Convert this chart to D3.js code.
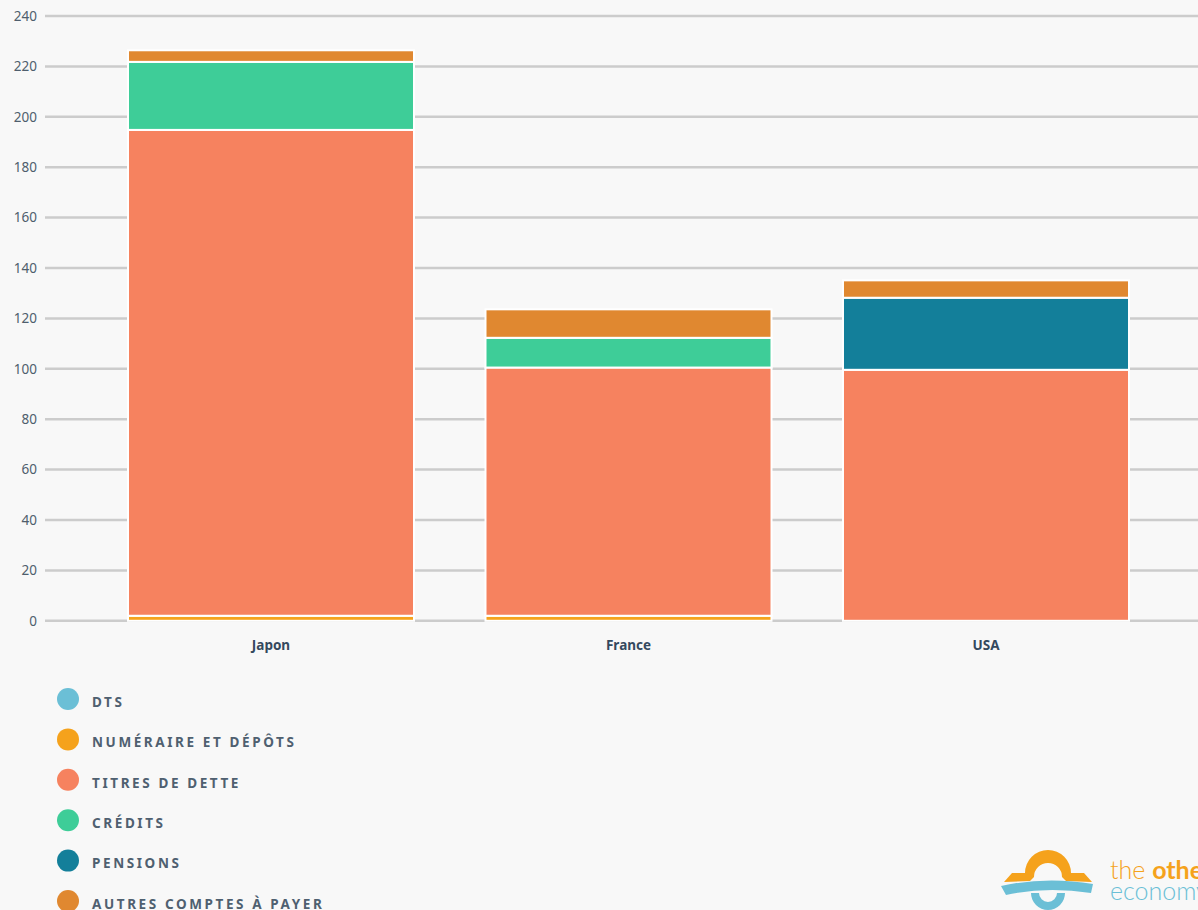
<!DOCTYPE html>
<html><head><meta charset="utf-8">
<script src="https://cdn.jsdelivr.net/npm/d3@7"></script>
<style>
html,body{margin:0;padding:0;background:#f8f8f8;overflow:hidden;}
svg{display:block;font-family:"Noto Sans","Open Sans",sans-serif;}
</style></head>
<body>
<svg id="chart" width="1198" height="910"></svg>
<script>
const categories = ["Japon", "France", "USA"];
const seriesNames = ["DTS", "Numéraire et dépôts", "Titres de dette", "Crédits", "Pensions", "Autres comptes à payer"];
const dts        = [0, 0, 0];
const numeraire  = [2, 2, 0];
const titres     = [192.8, 98.5, 99.6];
const credits    = [27, 11.8, 0];
const pensions   = [0, 0, 28.6];
const autres     = [4.6, 11.3, 6.9];
const yTicks = [0, 20, 40, 60, 80, 100, 120, 140, 160, 180, 200, 220, 240];
const colors = ["#6bbfd6", "#f5a21c", "#f6825f", "#3ecd98", "#137f9a", "#e08830"];

const seriesValues = [dts, numeraire, titres, credits, pensions, autres];
const rows = categories.map((c, i) => {
  const r = {cat: c};
  seriesNames.forEach((s, k) => r[s] = seriesValues[k][i]);
  return r;
});

const svg = d3.select("#chart");
const x = d3.scaleBand().domain(categories).range([56.5, 1200.5]).paddingInner(0.2).paddingOuter(0.2);
const y = d3.scaleLinear().domain([0, 240]).range([620.8, 16]);

// gridlines
svg.append("g").selectAll("line").data(yTicks).join("line")
  .attr("x1", 45).attr("x2", 1198)
  .attr("y1", d => y(d)).attr("y2", d => y(d))
  .attr("stroke", "#cccccc").attr("stroke-width", 2.5);

// y labels
svg.append("g").selectAll("text").data(yTicks).join("text")
  .attr("x", 37).attr("y", d => y(d)).attr("dy", "0.35em")
  .attr("text-anchor", "end").attr("font-size", 13.5)
  .attr("fill", "#4f5e6d").text(d => d);

// stacks
const stack = d3.stack().keys(seriesNames)(rows);
svg.append("g").selectAll("g").data(stack).join("g")
  .attr("fill", (d, i) => colors[i])
  .selectAll("rect").data(d => d.filter(p => p[1] - p[0] > 0)).join("rect")
  .attr("x", d => x(d.data.cat))
  .attr("width", x.bandwidth())
  .attr("y", d => y(d[1]))
  .attr("height", d => y(d[0]) - y(d[1]))
  .attr("stroke", "#ffffff").attr("stroke-width", 2);

// x labels
svg.append("g").selectAll("text").data(categories).join("text")
  .attr("x", d => x(d) + x.bandwidth() / 2).attr("y", 650)
  .attr("text-anchor", "middle").attr("font-size", 13.5).attr("font-weight", "bold")
  .attr("fill", "#34495e").text(d => d);

// legend
const leg = svg.append("g").selectAll("g").data(seriesNames).join("g")
  .attr("transform", (d, i) => `translate(68,${699 + i * 40.4})`);
leg.append("circle").attr("r", 11).attr("fill", (d, i) => colors[i]);
leg.append("text").attr("x", 24).attr("y", 3).attr("dy", "0.36em")
  .attr("font-size", 13.5).attr("font-weight", "bold").attr("letter-spacing", 2.6)
  .attr("fill", "#4f6070").text(d => d.toUpperCase());

// logo
const logo = svg.append("g");
logo.append("path")
  .attr("d", "M1004,882 L1012,873 L1025,873 A23,23 0 0 1 1071,873 L1084,873 L1092,882 L1066,881 L1062,877 A14,14 0 0 0 1034,877 L1030,881 Z")
  .attr("fill", "#f5a21c");
logo.append("path")
  .attr("d", "M1001,886 Q1046,876 1093,884 L1091,893 Q1046,886 1006,895 Z")
  .attr("fill", "#6bbfd6");
logo.append("path")
  .attr("d", "M1031,893 A17,17 0 0 0 1065,893 L1057,893 A9,9 0 0 1 1039,893 Z")
  .attr("fill", "#6bbfd6");
const lt = logo.append("text").attr("x", 1110).attr("y", 879).attr("font-size", 25).attr("font-family", "Lato, sans-serif");
lt.append("tspan").attr("fill", "#f5a21c").attr("font-weight", 300).text("the ");
lt.append("tspan").attr("fill", "#f5a21c").attr("font-weight", "bold").text("other");
logo.append("text").attr("x", 1110).attr("y", 900).attr("font-size", 25).attr("font-family", "Lato, sans-serif")
  .attr("font-weight", 300).attr("fill", "#6bbfd6").text("economy");
</script>
</body></html>
